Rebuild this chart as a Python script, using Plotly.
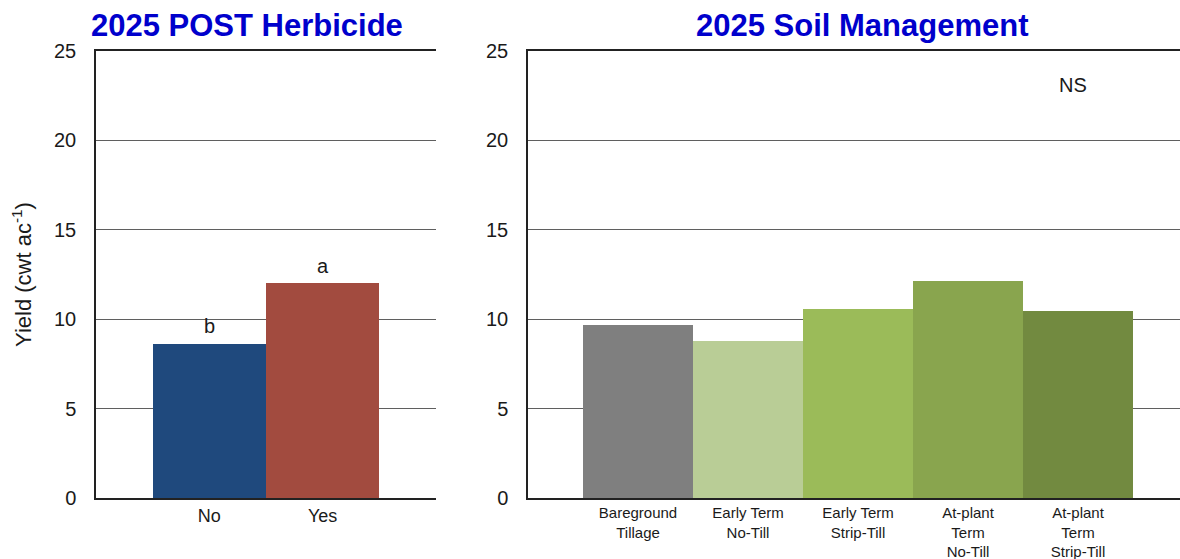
import plotly.graph_objects as go

# Yield by POST herbicide use
herb_categories = ["No", "Yes"]
herb_yield = [8.65, 12.05]
herb_letters = ["b", "a"]
herb_colors = ["#1F497D", "#A24B3F"]

# Yield by soil management system
soil_categories = [
    "Bareground<br>Tillage",
    "Early Term<br>No-Till",
    "Early Term<br>Strip-Till",
    "At-plant<br>Term<br>No-Till",
    "At-plant<br>Term<br>Strip-Till",
]
soil_yield = [9.7, 8.78, 10.58, 12.17, 10.48]
soil_colors = ["#7F7F7F", "#B9CD96", "#9BBB59", "#89A54E", "#728A40"]

y_ticks = [0, 5, 10, 15, 20, 25]

W, H = 1180, 559
FONT = "Liberation Sans, Arial, sans-serif"
TXT = "#1a1a1a"

fig = go.Figure()
fig.add_trace(go.Bar(x=list(range(len(herb_categories))), y=herb_yield,
                     marker=dict(color=herb_colors, line=dict(width=0)),
                     width=1.0, xaxis="x", yaxis="y", showlegend=False))
fig.add_trace(go.Bar(x=list(range(len(soil_categories))), y=soil_yield,
                     marker=dict(color=soil_colors, line=dict(width=0)),
                     width=1.0, xaxis="x2", yaxis="y2", showlegend=False))

# significance letters above the herbicide bars
for i, (v, lab) in enumerate(zip(herb_yield, herb_letters)):
    fig.add_annotation(x=i, y=v, text=lab, showarrow=False, xref="x", yref="y",
                       yanchor="bottom", yshift=4,
                       font=dict(family=FONT, size=20, color=TXT))

fig.add_annotation(x=3.95, y=23.1, text="NS", showarrow=False, xref="x2", yref="y2",
                   font=dict(family=FONT, size=20, color=TXT))

y_dom = [(H - 498.3) / H, (H - 50.7) / H]

common_x = dict(showgrid=False, zeroline=False, showline=True, linecolor="#222",
                linewidth=1.5, mirror=True, ticks="", automargin=False,
                tickfont=dict(family=FONT, size=18, color=TXT), fixedrange=True)
common_y = dict(range=[0, 25], tickvals=y_ticks, showgrid=True, gridcolor="#5f5f5f",
                gridwidth=1, zeroline=False, showline=True, linecolor="#222",
                linewidth=1.5, ticks="", automargin=False, ticklabelstandoff=14,
                tickfont=dict(family=FONT, size=20, color=TXT), fixedrange=True)

fig.update_layout(
    width=W, height=H,
    margin=dict(l=0, r=0, t=0, b=0),
    paper_bgcolor="white", plot_bgcolor="white",
    bargap=0,
    xaxis=dict(common_x, domain=[96 / W, 436 / W], range=[-1.0, 2.0],
               tickvals=list(range(len(herb_categories))), ticktext=herb_categories,
               anchor="y", ticklabelstandoff=0),
    yaxis=dict(common_y, domain=y_dom, anchor="x",
               title=dict(text="Yield (cwt ac<sup>-1</sup>)", standoff=16,
                          font=dict(family=FONT, size=22, color=TXT))),
    xaxis2=dict(common_x, domain=[528 / W, 1.0], range=[-1.0, 4.927],
                tickvals=list(range(len(soil_categories))), ticktext=soil_categories,
                anchor="y2", ticklabelstandoff=0,
                tickfont=dict(family=FONT, size=15, color=TXT)),
    yaxis2=dict(common_y, domain=y_dom, anchor="x2"),
)

# panel titles
for label, cx in [("2025 POST Herbicide", 247), ("2025 Soil Management", 862)]:
    fig.add_annotation(text=f"<b>{label}</b>", x=cx / W, y=1 - 26 / H,
                       xref="paper", yref="paper", showarrow=False,
                       xanchor="center", yanchor="middle",
                       font=dict(family=FONT, size=31, color="#0000CC"))

fig.write_html("out.html")
